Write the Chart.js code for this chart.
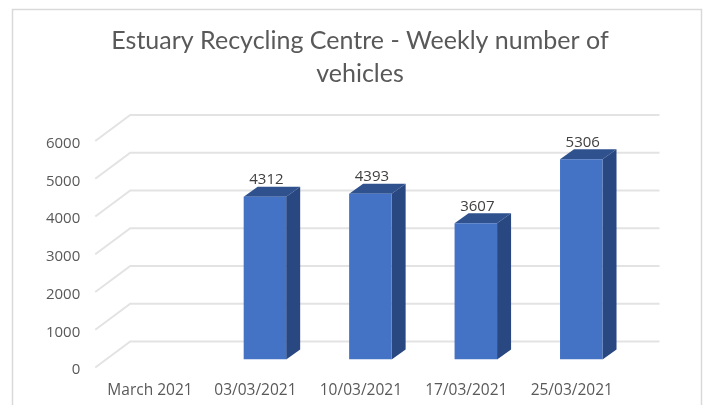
<!DOCTYPE html>
<html>
<head>
<meta charset="utf-8">
<title>Estuary Recycling Centre</title>
<script src="https://cdn.jsdelivr.net/npm/chart.js@4"></script>
<style>
    body { margin: 0; background: #fff; }
    canvas { display: block; }
</style>
</head>
<body>
<canvas id="chart" width="706" height="405"></canvas>
<script>
const titleLines = ['Estuary Recycling Centre - Weekly number of', 'vehicles'];
const categories = ['March 2021', '03/03/2021', '10/03/2021', '17/03/2021', '25/03/2021'];
const vehicles = [null, 4312, 4393, 3607, 5306];

// the picture is a fake 3D column chart, so depth is added by hand
const depthX = 14, depthY = 10;     // bar side and top
const wallX = 35, wallY = 26;       // back wall offset of the grid
const barShiftX = 9.5, barShiftY = -8;

const threeD = {
    id: 'threeD',
    beforeDraw(chart) {
        const ctx = chart.ctx;
        const area = chart.chartArea;
        const y = chart.scales.y;

        ctx.save();
        ctx.strokeStyle = '#d9d9d9';
        ctx.lineWidth = 1.5;
        ctx.strokeRect(12.5, 9.5, 689, 420);

        // grid: diagonal on the side wall and then across the back wall
        ctx.strokeStyle = '#e3e3e3';
        ctx.lineWidth = 2;
        y.ticks.forEach((t, i) => {
            const py = y.getPixelForTick(i);
            ctx.beginPath();
            ctx.moveTo(area.left - 2, py);
            ctx.lineTo(area.left + wallX - 2, py - wallY);
            ctx.lineTo(area.right + wallX, py - wallY);
            ctx.stroke();
        });
        ctx.restore();
    },
    beforeDatasetDraw(chart) {
        const ctx = chart.ctx;
        ctx.save();
        ctx.translate(barShiftX, barShiftY);
        chart.getDatasetMeta(0).data.forEach((bar, i) => {
            if (vehicles[i] === null) return;
            const left = bar.x - bar.width / 2;
            const right = bar.x + bar.width / 2;

            ctx.fillStyle = '#2f528f';
            ctx.beginPath();
            ctx.moveTo(left, bar.y);
            ctx.lineTo(left + depthX, bar.y - depthY);
            ctx.lineTo(right + depthX, bar.y - depthY);
            ctx.lineTo(right, bar.y);
            ctx.closePath();
            ctx.fill();

            ctx.fillStyle = '#294780';
            ctx.beginPath();
            ctx.moveTo(right, bar.y);
            ctx.lineTo(right + depthX, bar.y - depthY);
            ctx.lineTo(right + depthX, bar.base - depthY);
            ctx.lineTo(right, bar.base);
            ctx.closePath();
            ctx.fill();
        });
    },
    afterDatasetDraw(chart) {
        const ctx = chart.ctx;
        ctx.textAlign = 'center';
        ctx.textBaseline = 'middle';
        ctx.fillStyle = '#404040';
        ctx.font = '15px "Open Sans"';
        chart.getDatasetMeta(0).data.forEach((bar, i) => {
            if (vehicles[i] === null) return;
            ctx.fillText(vehicles[i], bar.x + 1.5, bar.y - 16.5);
        });
        ctx.restore();
    }
};

new Chart(document.getElementById('chart'), {
    type: 'bar',
    data: {
        labels: categories,
        datasets: [{
            data: vehicles,
            backgroundColor: '#4472c4',
            borderWidth: 0,
            barPercentage: 0.403,
            categoryPercentage: 1
        }]
    },
    plugins: [threeD],
    options: {
        responsive: false,
        animation: false,
        layout: {
            padding: { top: 24, left: 14 }
        },
        plugins: {
            legend: { display: false },
            tooltip: { enabled: false },
            title: {
                display: true,
                text: titleLines,
                color: '#595959',
                font: { family: 'Lato', size: 25, weight: 'normal', lineHeight: 1.32 },
                padding: { top: 0, bottom: 51 }
            }
        },
        scales: {
            x: {
                afterFit: s => { s.height = 37.5; },
                border: { display: false },
                grid: { display: false },
                ticks: {
                    color: '#595959',
                    font: { family: 'Open Sans', size: 15.5 },
                    padding: 6,
                    maxRotation: 0
                }
            },
            y: {
                min: 0,
                max: 6000,
                afterFit: s => { s.width = 83.25; },
                border: { display: false },
                grid: { display: false, drawTicks: false },
                ticks: {
                    stepSize: 1000,
                    callback: v => String(v),
                    color: '#595959',
                    font: { family: 'Open Sans', size: 15 },
                    padding: 17,
                    labelOffset: 2.5
                }
            },
            // empty axis, only keeps the plot clear of the right side
            spacer: {
                position: 'right',
                afterFit: s => { s.width = 81.5; },
                border: { display: false },
                grid: { display: false },
                ticks: { display: false }
            }
        }
    }
});
</script>
</body>
</html>
